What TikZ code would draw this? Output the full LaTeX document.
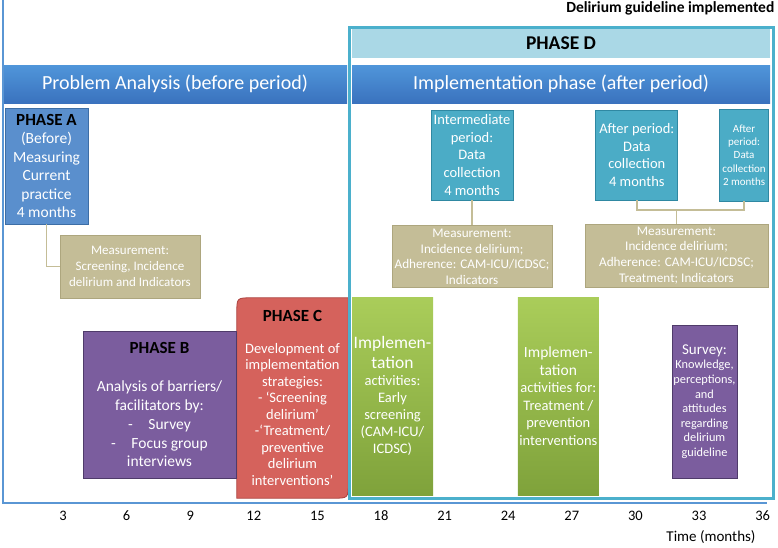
\documentclass[tikz,border=0pt]{standalone}
\usepackage{fontspec}
\setmainfont{Carlito}
\usetikzlibrary{positioning, calc, backgrounds}
\definecolor{cframe}{HTML}{5A96D4}
\definecolor{cbartop}{HTML}{5096DA}
\definecolor{cbarbot}{HTML}{3A72BE}
\definecolor{cphd}{HTML}{4BB0CC}
\definecolor{cphdhead}{HTML}{AAD8E6}
\definecolor{cpha}{HTML}{5A8FCD}
\definecolor{cphaline}{HTML}{3D6EA6}
\definecolor{ctan}{HTML}{C4BD97}
\definecolor{ctanline}{HTML}{ADA67E}
\definecolor{cpurple}{HTML}{7B5D9E}
\definecolor{cpurline}{HTML}{4F3B6A}
\definecolor{cred}{HTML}{D5625C}
\definecolor{credline}{HTML}{AC423E}
\definecolor{cgrtop}{HTML}{AACD5A}
\definecolor{cgrbot}{HTML}{7FA23B}
\definecolor{cteal}{HTML}{4BACC6}
\definecolor{ctealline}{HTML}{2F88A2}
\newcommand{\fs}[2]{\fontsize{#1}{#2}\selectfont}
\newcommand{\ph}[1]{{\fs{17}{20}\bfseries\color{black}#1}}

\begin{document}
\begin{tikzpicture}[
  x=1pt, y=-1pt,
  font=\fs{14.5}{17},
  box/.style={draw, align=flush center, inner xsep=0pt, inner ysep=0pt, text=white, line width=0.8pt},
  phasebox/.style={box, fill=cpha, draw=cphaline},
  meas/.style={box, fill=ctan, draw=ctanline, font=\fs{13.2}{15.8}},
  purplebox/.style={box, fill=cpurple, draw=cpurline},
  greenbox/.style={box, draw=none, top color=cgrtop, bottom color=cgrbot},
  tealbox/.style={box, fill=cteal, draw=ctealline, text width=82pt, minimum height=90pt, font=\fs{14.5}{17.6}},
  bar/.style={top color=cbartop, bottom color=cbarbot, text=white, font=\fs{20}{24},
              minimum height=38pt, inner sep=0pt},
  conn/.style={draw=ctan, line width=1.5pt},
  tick/.style={font=\fs{14.5}{17}},
  ]
\useasboundingbox (0,0) rectangle (778,547);

% frame, phase D and the two period bars
\node[bar, minimum width=344pt] (barpre) at (175,84) {Problem Analysis (before period)};
\draw[cframe, line width=2.5pt] (3,0) -- (3,503) -- (767,503);
\node[draw=cphd, line width=3pt, minimum width=424pt, minimum height=471pt, inner sep=0pt] (frameD) at (561,262.5) {};
\node[fill=cphdhead, minimum width=418pt, minimum height=29pt, inner sep=0pt, font=\fs{19.5}{22}\bfseries] (headD) at (561,43.5) {PHASE D};
\node[bar, minimum width=418pt] (barpost) at (561,84) {Implementation phase (after period)};
\node[above left=10pt and 0pt of frameD.north east, inner sep=0pt, font=\fs{15.5}{18}\bfseries] (impl) {Delirium guideline implemented};

% before period
\node[phasebox, text width=83pt, minimum height=116pt, font=\fs{15.5}{18.5}] (phA) at (46.5,166)
  {\ph{PHASE A}\\(Before)\\Measuring\\Current\\practice\\4 months};
\node[meas, text width=140pt, minimum height=63pt, font=\fs{13}{16}] (measA) at (130,266.5)
  {Measurement:\\Screening, Incidence\\delirium and Indicators};
\node[purplebox, text width=153pt, minimum height=147pt, font=\fs{15.5}{18.7}] (phB) at (159.5,404.5)
  {\ph{PHASE B}\\[20pt]Analysis of barriers/\\facilitators by:\\-\quad Survey\\-\quad Focus group\\interviews};
\node[align=flush center, text=white, text width=111pt, inner xsep=0pt, minimum height=200pt, font=\fs{14.5}{16.5}] (phC) at (292.5,398)
  {\ph{PHASE C}\\[15pt]Development of\\implementation\\strategies:\\- ‘Screening\\delirium’\\-‘Treatment/\\preventive\\delirium\\interventions’};
\begin{scope}[on background layer]
\draw[fill=cred, draw=credline, line width=0.8pt] (phC.south west) -- ([yshift=-15pt]phC.north west)
  .. controls (phC.north west) .. ([xshift=15pt]phC.north west) -- (phC.north east)
  -- ([yshift=15pt]phC.south east) .. controls (phC.south east) .. ([xshift=-15pt]phC.south east) -- cycle;
\end{scope}

% after period
\node[tealbox] (inter) at (472,155) {Intermediate\\period:\\Data\\collection\\4 months};
\node[tealbox, right=82pt of inter] (after1) {After period:\\Data\\collection\\4 months};
\node[tealbox, right=41pt of after1, text width=49pt, minimum height=92pt, font=\fs{11}{13.3}] (after2) {After\\period:\\Data\\collection\\2 months};
\node[meas, below=25pt of inter, text width=160pt, minimum height=62pt] (meas2)
  {Measurement:\\Incidence delirium;\\Adherence: CAM-ICU/ICDSC;\\Indicators};
\node[meas, text width=183pt, minimum height=63pt] (meas3) at (676.5,255.5)
  {Measurement:\\Incidence delirium;\\Adherence: CAM-ICU/ICDSC;\\Treatment; Indicators};
\node[greenbox, text width=81pt, minimum height=198pt] (grA) at (392.5,396)
  {\fs{17.5}{20}Implemen-\\tation\\\fs{14.5}{17}activities:\\Early\\screening\\(CAM-ICU/\\ICDSC)};
\node[greenbox, right=84pt of grA, text width=81pt, minimum height=198pt, font=\fs{14.5}{17.5}] (grB)
  {\fs{15.5}{17.5}Implemen-\\tation\\\fs{14.5}{17.5}activities for:\\Treatment /\\prevention\\interventions};
\node[purplebox, text width=65pt, minimum height=153pt, font=\fs{12.3}{14.6}] (survey) at (704.5,401.5)
  {\fs{15}{17}Survey:\\\fs{12.3}{14.6}Knowledge,\\perceptions,\\and\\attitudes\\regarding\\delirium\\guideline};

% connectors
\coordinate (aj) at (676.5,210);
\draw[conn] (phA.south) |- (measA.west);
\draw[conn] (inter.south) -- (meas2.north);
\draw[conn] (after1.south) |- (aj) -| (after2.south);
\draw[conn] (aj) -- (meas3.north);

% time axis
\foreach \m in {3,6,...,36}
  \node[tick] (t\m) at ({21.2*\m-0.6},516) {\m};
\node[font=\fs{15}{18}] (time) at (711,537) {Time (months)};
\end{tikzpicture}
\end{document}
